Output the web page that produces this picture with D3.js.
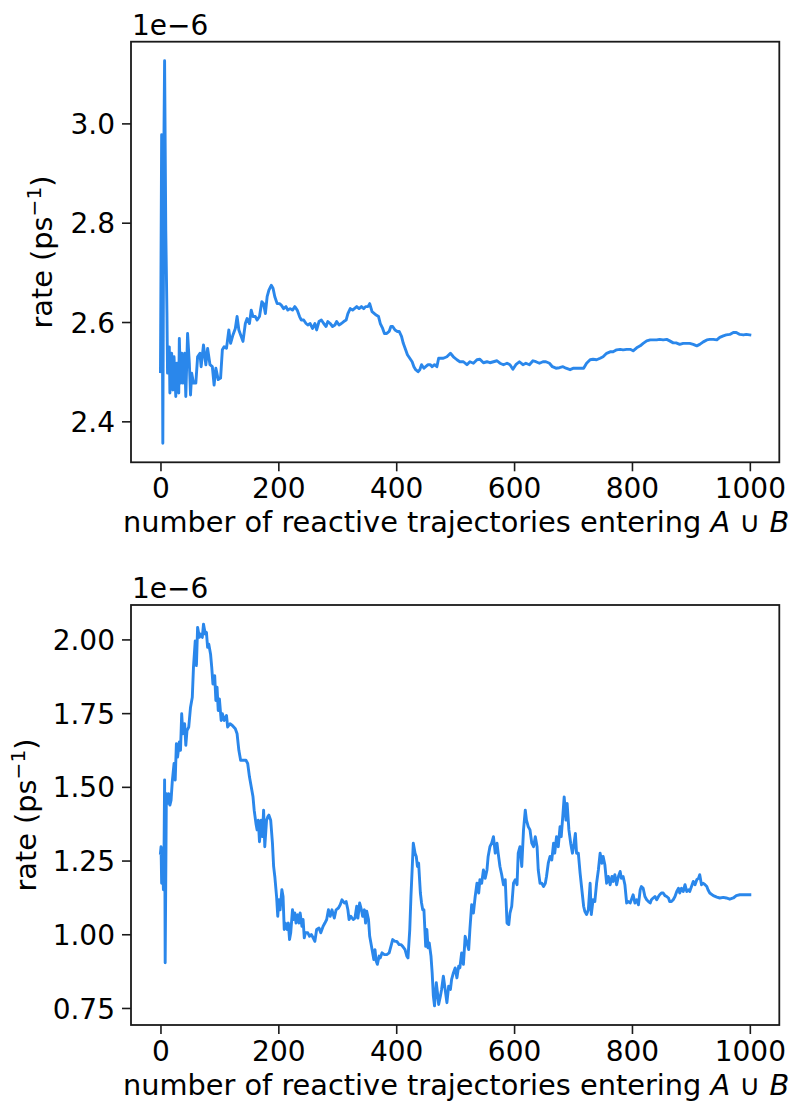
<!DOCTYPE html>
<html><head><meta charset="utf-8">
<script src="https://cdn.jsdelivr.net/npm/d3@7"></script>
<style>
body{margin:0;background:#fff}
text{font-family:"DejaVu Sans",sans-serif;fill:#000}
</style>
</head><body>
<svg id="c" width="793" height="1111"></svg>
<script>
// ---- data (rates in units of 1e-6 ps^-1) ----
const topN = [
0,2,4,6,7,9,11,12,15,16,
19,21,23,26,28,31,32,34,36,38,
41,43,46,49,51,53,56,60,63,67,
69,73,77,80,84,88,91,94,98,102,
105,108,112,116,119,123,127,130,133,137,
140,144,147,151,154,157,161,164,168,172,
175,178,181,184,188,191,194,198,202,205,
209,213,216,220,224,228,232,236,239,243,
247,250,254,258,262,265,269,273,277,281,
284,288,292,296,299,303,307,311,315,318,
322,326,329,333,337,341,345,348,352,355,
359,363,366,370,373,377,380,384,388,391,
394,398,402,405,409,412,416,419,423,427,
430,433,437,440,443,447,450,454,458,461,
465,469,472,475,480,486,492,497,503,508,
514,520,525,531,537,542,548,554,559,565,
571,576,582,588,593,598,603,609,615,620,
626,632,637,643,649,654,660,665,671,677,
683,688,695,701,706,712,718,723,729,734,
740,746,751,757,763,768,774,780,785,791,
797,802,808,814,819,825,831,836,842,847,
853,859,864,870,875,881,887,892,898,904,
910,915,921,927,932,938,944,949,955,960,
966,972,977,983,989,994,1000];
const topRate = [
2.500,2.977,2.356,2.985,3.126,2.785,2.617,2.497,2.550,2.457,
2.537,2.463,2.530,2.450,2.517,2.457,2.567,2.477,2.537,2.477,
2.537,2.450,2.577,2.517,2.453,2.497,2.477,2.477,2.530,2.537,
2.510,2.554,2.514,2.547,2.514,2.510,2.473,2.507,2.484,2.487,
2.544,2.550,2.547,2.584,2.557,2.574,2.587,2.611,2.584,2.571,
2.561,2.597,2.607,2.597,2.624,2.611,2.611,2.604,2.611,2.641,
2.637,2.617,2.651,2.664,2.674,2.668,2.651,2.637,2.637,2.634,
2.627,2.631,2.624,2.627,2.624,2.631,2.624,2.611,2.604,2.604,
2.597,2.594,2.597,2.587,2.597,2.584,2.601,2.604,2.597,2.591,
2.601,2.597,2.591,2.594,2.601,2.594,2.597,2.601,2.604,2.617,
2.627,2.624,2.627,2.631,2.627,2.631,2.627,2.631,2.631,2.637,
2.621,2.617,2.614,2.611,2.597,2.587,2.577,2.577,2.581,2.591,
2.591,2.584,2.581,2.581,2.571,2.557,2.544,2.534,2.527,2.520,
2.510,2.504,2.500,2.504,2.514,2.507,2.510,2.514,2.514,2.510,
2.514,2.510,2.527,2.527,2.527,2.530,2.537,2.530,2.524,2.520,
2.520,2.514,2.520,2.517,2.524,2.525,2.518,2.520,2.518,2.520,
2.522,2.517,2.514,2.517,2.514,2.505,2.514,2.520,2.514,2.517,
2.514,2.522,2.520,2.517,2.520,2.520,2.517,2.510,2.507,2.508,
2.510,2.507,2.504,2.507,2.507,2.507,2.507,2.517,2.524,2.525,
2.524,2.527,2.530,2.537,2.540,2.540,2.544,2.545,2.544,2.545,
2.545,2.542,2.548,2.552,2.557,2.562,2.564,2.564,2.564,2.565,
2.564,2.565,2.562,2.558,2.558,2.555,2.557,2.557,2.557,2.555,
2.552,2.555,2.560,2.564,2.565,2.565,2.564,2.569,2.572,2.574,
2.575,2.579,2.579,2.575,2.574,2.575,2.574];

const botN = [
0,1,2,3,5,6,7,8,10,12,
14,16,18,20,23,25,27,29,32,34,
36,38,41,43,45,48,51,54,56,59,
61,63,66,68,71,73,76,78,80,82,
85,87,89,92,94,96,98,100,103,105,
108,112,114,118,122,127,130,133,136,140,
145,148,151,154,157,159,162,164,166,168,
171,173,175,177,180,182,184,187,190,192,
194,197,199,201,203,206,208,210,212,215,
217,219,221,224,226,228,230,233,235,237,
240,242,244,246,250,253,256,259,262,265,
269,272,276,279,282,285,288,291,295,298,
302,305,308,312,315,318,320,323,327,330,
333,335,338,341,343,346,348,350,353,355,
357,359,362,364,366,368,371,373,376,380,
384,388,391,394,398,401,405,408,411,415,
418,420,423,425,427,429,432,434,436,438,
441,443,445,447,450,452,454,456,459,461,
463,465,468,470,472,475,477,480,483,486,
489,492,494,497,500,503,506,508,511,514,
517,520,523,525,528,531,534,537,540,542,
545,548,551,554,556,559,562,565,568,571,
573,576,579,582,585,588,591,593,596,599,
602,605,607,610,613,616,619,621,624,627,
630,633,636,639,641,644,647,650,653,655,
658,661,664,667,669,672,675,678,680,683,
685,688,690,693,696,699,701,704,706,709,
712,715,718,720,723,726,729,731,734,737,
740,743,746,749,751,754,757,760,763,766,
768,771,774,777,780,782,785,788,791,794,
797,799,802,805,808,811,814,816,819,822,
825,828,831,833,836,839,842,845,847,850,
853,856,859,862,864,867,870,873,876,879,
881,884,887,890,893,896,898,901,904,907,
910,913,915,918,921,924,927,929,932,938,
944,949,955,960,966,972,977,983,989,994,
1000];
const botRate = [
1.275,1.297,1.173,1.292,1.151,1.264,1.523,0.903,1.477,1.444,
1.477,1.438,1.455,1.517,1.579,1.523,1.646,1.601,1.652,1.624,
1.748,1.680,1.714,1.641,1.691,1.703,1.770,1.804,1.905,1.995,
1.911,2.041,2.007,2.018,2.007,2.052,2.018,2.024,1.973,1.984,
1.950,1.905,1.849,1.877,1.793,1.838,1.759,1.798,1.725,1.748,
1.725,1.742,1.703,1.714,1.708,1.697,1.680,1.624,1.590,1.590,
1.590,1.579,1.534,1.500,1.466,1.421,1.376,1.354,1.387,1.314,
1.387,1.331,1.421,1.297,1.387,1.398,1.404,1.387,1.309,1.230,
1.196,1.128,1.061,1.117,1.083,1.151,1.128,1.016,1.038,1.016,
1.038,0.982,1.005,1.083,1.050,1.072,1.038,1.066,1.038,1.072,
1.027,1.050,0.988,1.005,1.005,0.993,0.999,0.988,0.976,1.016,
1.021,1.005,1.027,1.038,1.050,1.083,1.061,1.083,1.055,1.083,
1.089,1.100,1.117,1.106,1.111,1.083,1.050,1.061,1.050,1.055,
1.095,1.055,1.106,1.083,1.061,1.083,1.038,1.078,1.050,0.993,
0.971,0.948,0.914,0.948,0.909,0.898,0.926,0.920,0.937,0.931,
0.931,0.937,0.959,0.982,0.976,0.976,0.965,0.965,0.959,0.948,
0.926,0.920,1.016,1.128,1.218,1.309,1.275,1.264,1.230,1.241,
1.140,1.106,1.083,1.083,0.959,1.016,0.954,0.971,0.926,0.869,
0.791,0.757,0.836,0.802,0.762,0.791,0.813,0.858,0.813,0.768,
0.824,0.813,0.847,0.869,0.886,0.852,0.892,0.886,0.937,0.898,
0.993,0.971,0.948,1.016,1.100,1.072,1.128,1.173,1.140,1.185,
1.173,1.218,1.190,1.218,1.264,1.297,1.309,1.331,1.275,1.309,
1.275,1.230,1.202,1.168,1.185,1.038,1.033,1.072,1.095,1.173,
1.185,1.168,1.275,1.297,1.230,1.354,1.421,1.387,1.365,1.354,
1.309,1.297,1.331,1.297,1.218,1.173,1.173,1.162,1.173,1.196,
1.241,1.264,1.252,1.309,1.275,1.331,1.297,1.365,1.331,1.410,
1.466,1.387,1.444,1.354,1.309,1.275,1.297,1.342,1.275,1.275,
1.207,1.151,1.095,1.078,1.067,1.083,1.173,1.067,1.117,1.111,
1.173,1.218,1.275,1.241,1.264,1.236,1.173,1.196,1.168,1.196,
1.179,1.202,1.168,1.196,1.213,1.190,1.196,1.168,1.106,1.111,
1.106,1.117,1.134,1.106,1.117,1.100,1.151,1.162,1.156,1.128,
1.117,1.111,1.106,1.117,1.123,1.128,1.117,1.128,1.134,1.140,
1.140,1.131,1.128,1.123,1.111,1.111,1.117,1.128,1.145,1.156,
1.140,1.156,1.145,1.168,1.145,1.151,1.145,1.162,1.179,1.168,
1.185,1.190,1.202,1.168,1.173,1.168,1.162,1.151,1.140,1.131,
1.126,1.123,1.125,1.123,1.119,1.123,1.131,1.134,1.134,1.134,
1.134];

const xTicks = [0, 200, 400, 600, 800, 1000];
const topYTicks = [2.4, 2.6, 2.8, 3.0];
const botYTicks = [0.75, 1.00, 1.25, 1.50, 1.75, 2.00];
const xLabelText = "number of reactive trajectories entering ";
const scaleText = "1e\u22126";

// ---- drawing ----
const svg = d3.select("#c");
const left = 131, right = 779.3;
const FS = 28, LFS = 28.8;
const lineColor = "#2a87eb";
const ink = "#1a1a1a";

function panel(cfg){
  const g = svg.append("g");
  const x = d3.scaleLinear().domain([-50, 1050]).range([left, right]);
  const lo = d3.min(cfg.rate), hi = d3.max(cfg.rate), m = (hi - lo) * 0.05;
  const y = d3.scaleLinear().domain([lo - m, hi + m]).range([cfg.bottom, cfg.top]);

  const line = d3.line().x((d,i)=>x(cfg.n[i])).y(d=>y(d));
  g.append("path").datum(cfg.rate).attr("d", line)
    .attr("fill","none").attr("stroke",lineColor).attr("stroke-width",2.9)
    .attr("stroke-linejoin","round").attr("stroke-linecap","square");

  const xa = g.append("g").attr("transform",`translate(0,${cfg.bottom})`)
    .call(d3.axisBottom(x).tickValues(xTicks).tickSize(9).tickPadding(7).tickFormat(d3.format("d")));
  const ya = g.append("g").attr("transform",`translate(${left},0)`)
    .call(d3.axisLeft(y).tickValues(cfg.yTicks).tickSize(9).tickPadding(7).tickFormat(d3.format(cfg.fmt)));
  [xa, ya].forEach(a=>{
    a.select(".domain").remove();
    a.selectAll(".tick line").attr("stroke",ink).attr("stroke-width",1.6);
    a.selectAll(".tick text").attr("font-size",FS).attr("font-family","DejaVu Sans").attr("fill","#000");
  });
  ya.selectAll(".tick text").attr("dy","0.36em");

  g.append("rect").attr("x",left).attr("y",cfg.top)
    .attr("width",right-left).attr("height",cfg.bottom-cfg.top)
    .attr("fill","none").attr("stroke",ink).attr("stroke-width",1.8);

  // offset text
  g.append("text").attr("x",left+1).attr("y",cfg.top-7).attr("font-size",FS).text(scaleText);

  // y label
  const yl = g.append("text")
    .attr("transform",`translate(${cfg.ylabX},${(cfg.top+cfg.bottom)/2}) rotate(-90)`)
    .attr("text-anchor","middle").attr("font-size",LFS);
  yl.append("tspan").text("rate (ps");
  yl.append("tspan").attr("font-size",LFS*0.7).attr("dy",-11).text("\u22121");
  yl.append("tspan").attr("dy",11).text(")");

  // x label
  const xl = g.append("text").attr("x",(left+right)/2+1).attr("y",cfg.bottom+70)
    .attr("text-anchor","middle").attr("font-size",LFS);
  xl.append("tspan").text(xLabelText);
  xl.append("tspan").attr("font-style","italic").text("A");
  xl.append("tspan").text(" \u222A ");
  xl.append("tspan").attr("font-style","italic").text("B");
}

panel({n: topN, rate: topRate, top: 41.7, bottom: 462.3, yTicks: topYTicks, fmt: ".1f", ylabX: 52});
panel({n: botN, rate: botRate, top: 605, bottom: 1025, yTicks: botYTicks, fmt: ".2f", ylabX: 36});
</script>
</body></html>
